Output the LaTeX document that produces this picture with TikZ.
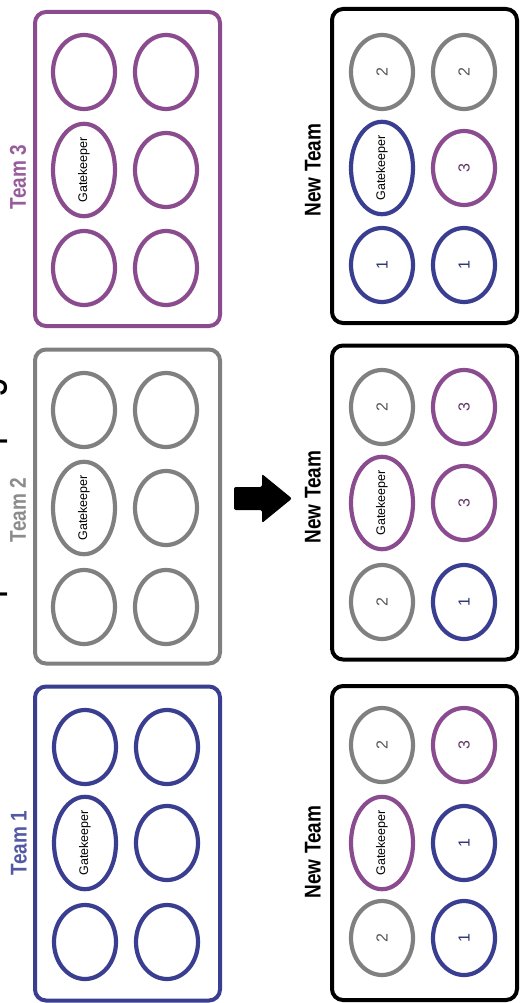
\documentclass[tikz,border=0pt]{standalone}
\usepackage{fontspec}
\setmainfont{Liberation Sans}
\usetikzlibrary{shapes.geometric}
\definecolor{tblue}{RGB}{58,62,145}
\definecolor{tpurple}{RGB}{138,76,142}
\definecolor{tgray}{RGB}{128,128,128}
\definecolor{lblue}{RGB}{84,88,162}
\definecolor{lpurple}{RGB}{150,92,156}
\definecolor{lgray}{RGB}{140,140,140}
\definecolor{nblue}{RGB}{45,50,115}
\definecolor{npurple}{RGB}{100,50,100}
\definecolor{ngray}{RGB}{85,85,85}
\newcommand\gkfont{\fontsize{12.5}{12.5}\selectfont}
\newcommand\nrfont{\fontsize{16}{16}\selectfont}
\begin{document}
\begin{tikzpicture}[x=1pt,y=-1pt,
  tbox/.style={draw, rounded corners=11pt, line width=4pt, minimum width=185pt, minimum height=314pt, inner sep=0pt},
  ell/.style={ellipse, draw, line width=4.2pt, minimum width=62pt, minimum height=74pt, inner sep=0pt, fill=white},
  bl/.style={ell, draw=tblue, text=nblue},
  pu/.style={ell, draw=tpurple, text=npurple},
  gr/.style={ell, draw=tgray, text=ngray},
  teamlbl/.style={rotate=90, font=\fontsize{19}{19}\bfseries\selectfont, inner sep=0pt},
]
\clip (0,0) rectangle (520,1003);
\fill[white] (0,0) rectangle (520,1003);

% title (cut off at the left edge, as in the reference)
\node[rotate=90, anchor=base, font=\fontsize{36}{36}\selectfont, inner sep=0pt] (title) at (-2,515) {\scalebox{1}[1.35]{Step 1: Grouping}};

% ---------- original teams ----------
\node[tbox, draw=tpurple] (t3) at (127.5,169) {};
\node[teamlbl, text=lpurple] (t3l) at (18,177) {\scalebox{1}[1.2]{Team 3}};
\node[pu] (t3a) at (84,72) {};
\node[pu] (t3b) at (84,170) {\rotatebox{90}{\gkfont\color{black} Gatekeeper}};
\node[pu] (t3c) at (84,268) {};
\node[pu] (t3d) at (166,72) {};
\node[pu] (t3e) at (166,170) {};
\node[pu] (t3f) at (166,268) {};

\node[tbox, draw=tgray] (t2) at (127.5,506.5) {};
\node[teamlbl, text=lgray] (t2l) at (18,510) {\scalebox{1}[1.2]{Team 2}};
\node[gr] (t2a) at (84,410) {};
\node[gr] (t2b) at (84,508) {\rotatebox{90}{\gkfont\color{black} Gatekeeper}};
\node[gr] (t2c) at (84,607) {};
\node[gr] (t2d) at (166,410) {};
\node[gr] (t2e) at (166,508) {};
\node[gr] (t2f) at (166,607) {};

\node[tbox, draw=tblue] (t1) at (127.5,843.5) {};
\node[teamlbl, text=lblue] (t1l) at (19,843) {\scalebox{1}[1.2]{Team 1}};
\node[bl] (t1a) at (85,747) {};
\node[bl] (t1b) at (85,843) {\rotatebox{90}{\gkfont\color{black} Gatekeeper}};
\node[bl] (t1c) at (85,942) {};
\node[bl] (t1d) at (167,747) {};
\node[bl] (t1e) at (167,843) {};
\node[bl] (t1f) at (167,942) {};

% ---------- arrow ----------
\fill[black, rounded corners=2pt] (234,487) -- (262,487) -- (262,474) -- (292,498.5) -- (262,523) -- (262,510) -- (234,510) -- cycle;

% ---------- new teams ----------
\node[tbox, draw=black] (n1) at (424.5,166) {};
\node[teamlbl, text=black] (n1l) at (313,170) {\scalebox{1}[1.2]{New Team}};
\node[gr] (n1a) at (382,72) {\rotatebox{90}{\nrfont 2}};
\node[bl] (n1b) at (382,168) {\rotatebox{90}{\gkfont\color{black} Gatekeeper}};
\node[bl] (n1c) at (382,265) {\rotatebox{90}{\nrfont 1}};
\node[gr] (n1d) at (464,72) {\rotatebox{90}{\nrfont 2}};
\node[pu] (n1e) at (464,168) {\rotatebox{90}{\nrfont 3}};
\node[bl] (n1f) at (464,265) {\rotatebox{90}{\nrfont 1}};

\node[tbox, draw=black] (n2) at (424.5,502.5) {};
\node[teamlbl, text=black] (n2l) at (313,497) {\scalebox{1}[1.2]{New Team}};
\node[gr] (n2a) at (382,407) {\rotatebox{90}{\nrfont 2}};
\node[pu] (n2b) at (382,503) {\rotatebox{90}{\gkfont\color{black} Gatekeeper}};
\node[gr] (n2c) at (382,602) {\rotatebox{90}{\nrfont 2}};
\node[pu] (n2d) at (464,407) {\rotatebox{90}{\nrfont 3}};
\node[pu] (n2e) at (464,503) {\rotatebox{90}{\nrfont 3}};
\node[bl] (n2f) at (464,602) {\rotatebox{90}{\nrfont 1}};

\node[tbox, draw=black] (n3) at (424.5,843) {};
\node[teamlbl, text=black] (n3l) at (313,852) {\scalebox{1}[1.2]{New Team}};
\node[gr] (n3a) at (382,745) {\rotatebox{90}{\nrfont 2}};
\node[pu] (n3b) at (382,843) {\rotatebox{90}{\gkfont\color{black} Gatekeeper}};
\node[gr] (n3c) at (382,938) {\rotatebox{90}{\nrfont 2}};
\node[pu] (n3d) at (464,745) {\rotatebox{90}{\nrfont 3}};
\node[bl] (n3e) at (464,843) {\rotatebox{90}{\nrfont 1}};
\node[bl] (n3f) at (464,938) {\rotatebox{90}{\nrfont 1}};
\end{tikzpicture}
\end{document}
